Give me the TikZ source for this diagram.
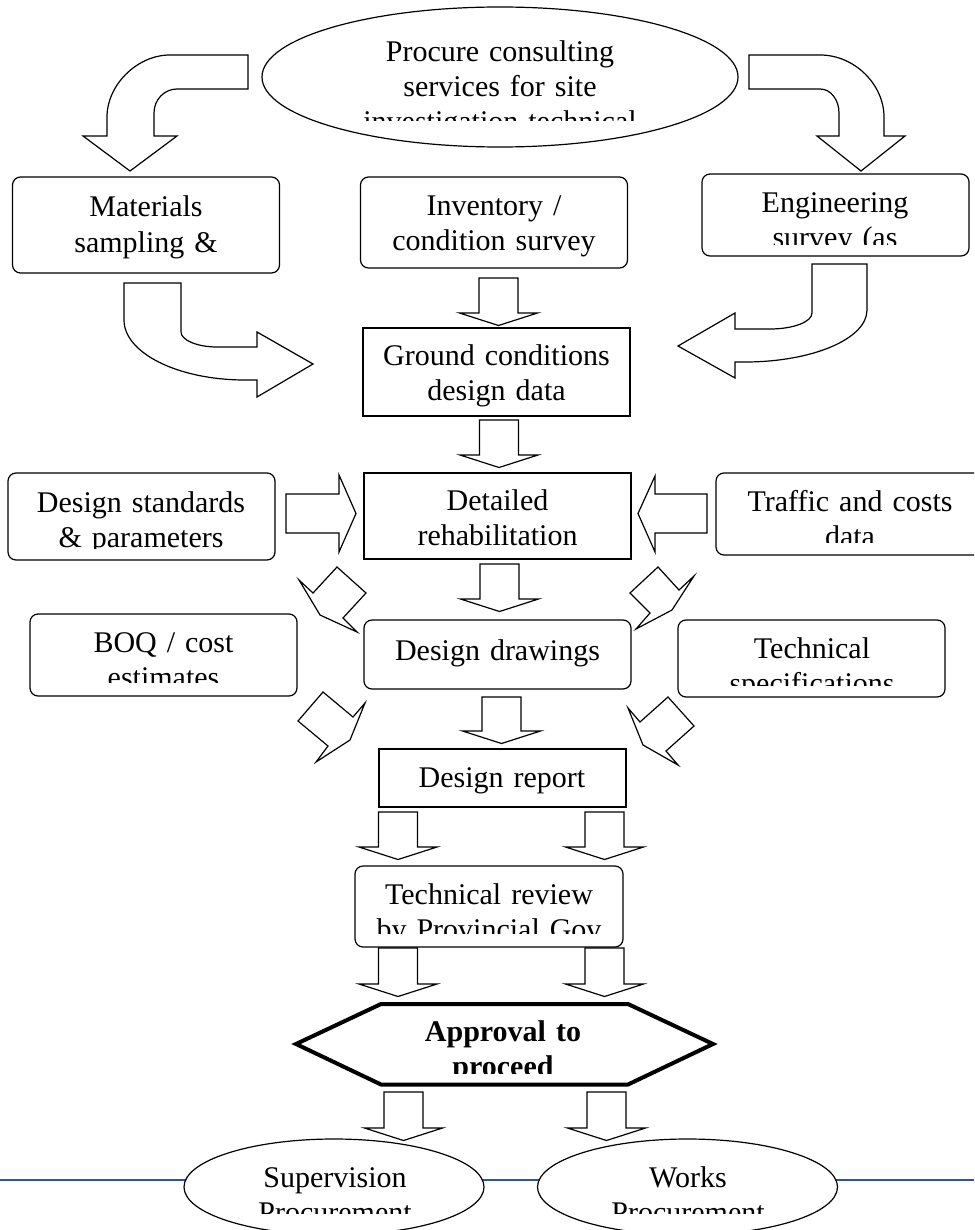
\documentclass[tikz,border=0pt]{standalone}
\usepackage{fontspec}
\setmainfont{Liberation Serif}
\usetikzlibrary{shapes.geometric}
\definecolor{rulebl}{RGB}{47,85,151}
\tikzset{
  % --- boxes and ovals -------------------------------------------------------
  sbox/.style={rectangle,draw,fill=white,line width=0.6pt,inner sep=0pt,
               minimum width=133.5pt},
  rbox/.style={sbox,rounded corners=4pt},
  oval/.style={ellipse,draw,fill=white,line width=0.6pt,inner sep=0pt},
  % --- texts (anchored on the first baseline) --------------------------------
  txt/.style={anchor=base,inner sep=0pt,text width=130pt,align=center,
              font=\fontsize{15}{17.5}\selectfont},
  txtb/.style={txt,font=\fontsize{15}{17.5}\selectfont\bfseries},
  % --- block arrows ----------------------------------------------------------
  blk/.style={draw,fill=white,line width=0.6pt,line join=miter},
  pics/downarr/.style={code={
    \draw[blk] (-19.5,0) -- (-19.5,#1) -- (-39,#1) -- (0,#1+12.5)
      -- (39,#1) -- (19.5,#1) -- (19.5,0) -- cycle;}},
}

\begin{document}
\begin{tikzpicture}[x=0.5pt, y=-0.5pt]
  \useasboundingbox (0,0) rectangle (974,1230);
  \clip (0,0) rectangle (974,1230);

  % start
  \node[oval,minimum width=238pt,minimum height=70pt] (proc) at (500,77) {};
  \begin{scope}
    \clip (265,20) rectangle (735,121);
    \node[txt,text width=220pt] (proc-t) at (500,62)
      {Procure consulting\\services for site\\investigation technical};
  \end{scope}

  \draw[blk] (248,55) -- (170,55) .. controls (137,55) and (107,85) .. (107,117)
    -- (107,136) -- (83,136) -- (130,171) -- (177,136) -- (154,136) -- (154,113)
    .. controls (154,100) and (164,89) .. (177,89) -- (248,89) -- cycle;
  \draw[blk] (749,55) -- (820,55) .. controls (855,55) and (884,85) .. (884,117)
    -- (884,136) -- (905,136) -- (861,171) -- (817,136) -- (839,136) -- (839,113)
    .. controls (839,100) and (831,89) .. (820,89) -- (749,89) -- cycle;

  % surveys
  \node[rbox,minimum height=48pt]   (mat) at (146,225)   {};
  \node[txt] (mat-t) at (146,217) {Materials\\sampling \&};
  \node[rbox,minimum height=45.5pt] (inv) at (494,222.5) {};
  \node[txt] (inv-t) at (494,215) {Inventory /\\condition survey};
  \node[rbox,minimum height=41pt]   (eng) at (835.5,215) {};
  \begin{scope}
    \clip (705,180) rectangle (966,244.5);
    \node[txt] (eng-t) at (835,213) {Engineering\\survey (as};
  \end{scope}

  \draw[blk] (124,283) -- (181,283) -- (181,332) .. controls (181,340) and (197,347) .. (217,347)
    -- (257,347) -- (257,332) -- (313,364) -- (257,397) -- (257,380) -- (245,380)
    .. controls (178,380) and (124,353) .. (124,320) -- cycle;
  \pic at (498.5,278) {downarr=35};
  \draw[blk] (812,264) -- (867,264) -- (867,310) .. controls (867,339) and (812,362) .. (745,362)
    -- (735,362) -- (735,378) -- (678,346) -- (735,313) -- (735,329) -- (770,329)
    .. controls (793,329) and (812,322) .. (812,313) -- cycle;

  \node[sbox,minimum height=44pt] (grd) at (496.5,372) {};
  \node[txt] (grd-t) at (496.5,365) {Ground conditions\\design data};
  \pic at (499,420) {downarr=35};

  % design
  \node[rbox,minimum height=43.5pt] (std) at (141.5,516.5) {};
  \begin{scope}
    \clip (12,478) rectangle (271,548);
    \node[txt] (std-t) at (141,512.5) {Design standards\\\& parameters};
  \end{scope}
  \node[sbox,minimum height=43pt] (det) at (497.5,516) {};
  \node[txt] (det-t) at (497.5,510) {Detailed\\rehabilitation};
  \node[rbox,minimum height=41pt] (trf) at (849.5,514) {};
  \begin{scope}
    \clip (720,478) rectangle (974,542);
    \node[txt] (trf-t) at (850,511.5) {Traffic and costs\\data};
  \end{scope}

  \draw[blk] (286,494) -- (339,494) -- (339,475) -- (356,513.5) -- (339,552) -- (339,533)
    -- (286,533) -- cycle;
  \draw[blk] (707,494) -- (655,494) -- (655,476) -- (638,513.5) -- (655,552) -- (655,533)
    -- (707,533) -- cycle;

  \pic at (499.5,564) {downarr=35};
  \draw[blk] (337,567) -- (366,593) -- (343,618) -- (357,632) -- (320,615) -- (299,580)
    -- (313,593) -- cycle;
  \draw[blk] (658,567) -- (630,593) -- (650,613) -- (636,629) -- (672,610) -- (694,576)
    -- (679,590) -- cycle;

  % outputs
  \node[rbox,minimum height=41pt] (boq) at (163.5,655) {};
  \begin{scope}
    \clip (34,618) rectangle (293,682.5);
    \node[txt] (boq-t) at (163.5,652.5) {BOQ / cost\\estimates};
  \end{scope}
  \node[rbox,minimum height=34.5pt] (drw) at (497.5,654.5) {};
  \node[txt] (drw-t) at (497.5,660) {Design drawings};
  \node[rbox,minimum height=38.5pt] (spc) at (811.5,658.5) {};
  \begin{scope}
    \clip (682,624) rectangle (941,685);
    \node[txt] (spc-t) at (812,658) {Technical\\specifications};
  \end{scope}

  \draw[blk] (323,692) -- (298,721) -- (328,746) -- (316,762) -- (350,740) -- (365,703)
    -- (353,717) -- cycle;
  \draw[blk] (668,697) -- (694,726) -- (666,751) -- (678,765) -- (643,745) -- (628,708)
    -- (640,722) -- cycle;
  \pic at (501.5,697) {downarr=34};

  % review and approval
  \node[sbox,minimum width=123.5pt,minimum height=29pt] (rep) at (502.5,778) {};
  \node[txt] (rep-t) at (502,787) {Design report};
  \pic at (398,812) {downarr=35};
  \pic at (604.5,812) {downarr=35};

  \node[rbox,minimum width=134pt,minimum height=40.5pt] (rev) at (489,906.5) {};
  \begin{scope}
    \clip (359,870) rectangle (619,933);
    \node[txt] (rev-t) at (489,904) {Technical review\\by Provincial Gov};
  \end{scope}
  \pic at (398,948) {downarr=36};
  \pic at (604.5,948) {downarr=36};

  \draw[fill=white,line width=2pt,line join=miter] (296,1044) -- (381,1004) -- (628,1004)
    -- (713,1044) -- (628,1084.5) -- (381,1084.5) -- cycle;
  \begin{scope}
    \clip (381,1008) rectangle (628,1073);
    \node[txtb] (appr-t) at (503,1041.5) {Approval to\\proceed};
  \end{scope}
  \pic at (403.5,1092) {downarr=36};
  \pic at (606.5,1092) {downarr=36};

  % procurement
  \coordinate (rl) at (0,1180);
  \coordinate (rr) at (974,1180);
  \draw[rulebl,line width=0.7pt] (rl) -- (rr);
  \node[oval,minimum width=150pt,minimum height=48pt] (sup) at (334,1187) {};
  \node[oval,minimum width=150pt,minimum height=48pt] (wrk) at (687.5,1187) {};
  \begin{scope}
    \clip (190,1145) rectangle (478,1213);
    \node[txt] (sup-t) at (335,1187) {Supervision\\Procurement};
  \end{scope}
  \begin{scope}
    \clip (544,1145) rectangle (831,1213);
    \node[txt] (wrk-t) at (688,1187) {Works\\Procurement};
  \end{scope}
\end{tikzpicture}
\end{document}
